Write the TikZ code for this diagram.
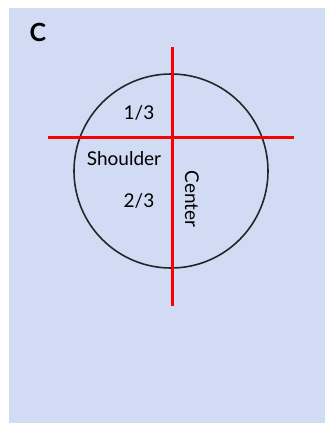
\documentclass[tikz,border=0pt]{standalone}
\usepackage{fontspec}
\setmainfont{Lato}
\definecolor{panelbg}{RGB}{209,219,244}
\definecolor{cutred}{RGB}{250,0,0}
\begin{document}
\begin{tikzpicture}[x=1pt,y=-1pt]
\useasboundingbox (0,0) rectangle (325,423);
\fill[panelbg] (9,8) rectangle (325,423);
\node[font=\bfseries\fontsize{25}{28}\selectfont] (panel) at (38,32) {C};
\node[draw=black!85, line width=1.6pt, circle, minimum size=194pt, inner sep=0pt] (fruit) at (171,171) {};
\coordinate (vtop) at (172,47);
\coordinate (vbot) at (172,306);
\coordinate (hleft) at (48,137);
\coordinate (hright) at (294,137);
\draw[cutred, line width=3pt] (vtop) -- (vbot);
\draw[cutred, line width=3pt] (hleft) -- (hright);
\node[font=\fontsize{19}{21}\selectfont] (third) at (139,113) {1/3};
\node[font=\fontsize{19}{21}\selectfont] (shoulder) at (124,159) {Shoulder};
\node[font=\fontsize{19}{21}\selectfont] (twothird) at (139,201) {2/3};
\node[font=\fontsize{19}{21}\selectfont, rotate=-90] (center) at (192,199) {Center};
\end{tikzpicture}
\end{document}
